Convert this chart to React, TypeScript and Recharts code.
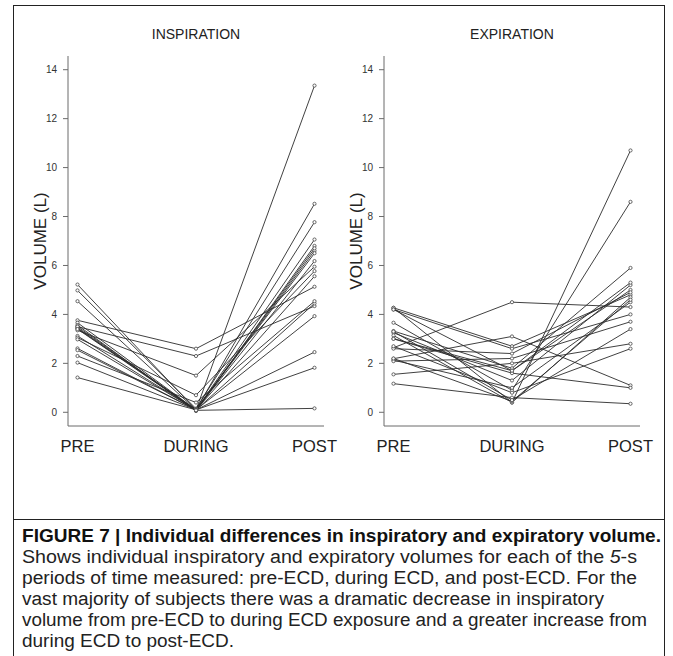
import React from 'react';
import { LineChart, Line, XAxis, YAxis } from 'recharts';

const PHASES = ['PRE', 'DURING', 'POST'];
const Y_TICKS = [0, 2, 4, 6, 8, 10, 12, 14];

// inspiratory volume (L), one entry per subject
const INSP_PRE = [5.22, 4.98, 4.54, 3.76, 3.66, 3.56, 3.5, 3.45, 3.42, 3.35, 3.12, 3.05, 2.98, 2.61, 2.54, 2.3, 2.03, 1.42, 3.5, 3.4];
const INSP_DURING = [0.1, 0.15, 0.1, 2.6, 0.1, 0.05, 2.3, 0.1, 0.1, 1.5, 0.1, 0.7, 0.1, 0.1, 0.1, 0.4, 0.1, 0.1, 0.1, 0.08];
const INSP_POST = [6.6, 7.77, 8.52, 5.13, 13.35, 6.8, 4.34, 6.7, 6.5, 5.95, 7.06, 5.77, 6.18, 5.56, 4.45, 4.54, 3.93, 2.46, 1.82, 0.16];

// expiratory volume (L)
const EXP_PRE = [4.27, 4.27, 4.2, 3.66, 3.32, 3.25, 3.14, 3.01, 2.64, 2.6, 2.19, 2.13, 2.09, 1.55, 1.17, 2.2, 3.0, 2.7, 4.2, 3.3];
const EXP_DURING = [2.7, 0.4, 2.6, 0.9, 1.8, 1.3, 0.4, 1.7, 4.5, 2.4, 3.1, 1.0, 2.2, 2.0, 0.6, 0.45, 1.6, 0.8, 1.7, 0.5];
const EXP_POST = [4.8, 10.7, 4.0, 8.6, 5.9, 5.2, 4.7, 5.0, 4.3, 4.9, 1.1, 4.5, 3.7, 2.8, 0.35, 4.6, 1.0, 2.6, 5.3, 3.4];

const buildRows = (pre: number[], during: number[], post: number[]) =>
  PHASES.map((phase, i) => {
    const src = [pre, during, post][i];
    const row: Record<string, any> = { phase };
    src.forEach((v, k) => { row['s' + k] = v; });
    return row;
  });

const AXIS_COLOR = '#6b6b6b';
const FONT = "'Liberation Sans', Arimo, Arial, sans-serif";

const Panel = ({ title, rows, n, left }: { title: string; rows: any[]; n: number; left: number }) => (
  <div style={{ position: 'absolute', left, top: 0, width: 340, height: 470 }}>
    <div style={{ position: 'absolute', left: 68, width: 256, top: 26, textAlign: 'center', fontFamily: FONT, fontSize: 14, color: '#222' }}>
      {title}
    </div>
    <LineChart width={340} height={470} data={rows} margin={{ top: 56, right: 16, left: 0, bottom: 4 }}>
      <XAxis
        dataKey="phase"
        padding={{ left: 9.5, right: 9.5 }}
        tickLine={false}
        tickMargin={8}
        height={40}
        axisLine={{ stroke: AXIS_COLOR }}
        tick={{ fill: '#222', fontSize: 16.5, fontFamily: FONT }}
      />
      <XAxis xAxisId="top" orientation="top" dataKey="phase" height={0} tick={false} tickLine={false} padding={{ left: 9.5, right: 9.5 }} axisLine={{ stroke: AXIS_COLOR }} />
      <YAxis
        type="number"
        domain={[-0.56, 14.56]}
        ticks={Y_TICKS}
        allowDataOverflow
        width={68}
        tickSize={5}
        tickMargin={6}
        axisLine={{ stroke: AXIS_COLOR }}
        tickLine={{ stroke: AXIS_COLOR }}
        tick={{ fill: '#333', fontSize: 10, fontFamily: FONT }}
        label={{ value: 'VOLUME (L)', angle: -90, position: 'insideLeft', offset: 40, style: { textAnchor: 'middle', fill: '#222', fontSize: 17, fontFamily: FONT } }}
      />
      <YAxis yAxisId="right" orientation="right" type="number" domain={[-0.56, 14.56]} width={0} tick={false} tickLine={false} axisLine={{ stroke: AXIS_COLOR }} />
      {Array.from({ length: n }, (_, k) => (
        <Line
          key={k}
          dataKey={'s' + k}
          stroke="#2b2b2b"
          strokeWidth={0.9}
          dot={{ r: 1.6, fill: '#fff', stroke: '#444', strokeWidth: 0.8 }}
          isAnimationActive={false}
        />
      ))}
    </LineChart>
  </div>
);

// caption lines with the width each takes in the figure
const CAPTION_LINES = [
  { text: 'Shows individual inspiratory and expiratory volumes for each of the 5-s', w: 615 },
  { text: 'periods of time measured: pre-ECD, during ECD, and post-ECD. For the', w: 615 },
  { text: 'vast majority of subjects there was a dramatic decrease in inspiratory', w: 582 },
  { text: 'volume from pre-ECD to during ECD exposure and a greater increase from', w: 625 },
  { text: 'during ECD to post-ECD.', w: 212 },
];

export default function App() {
  const insp = buildRows(INSP_PRE, INSP_DURING, INSP_POST);
  const exp = buildRows(EXP_PRE, EXP_DURING, EXP_POST);
  return (
    <div style={{ position: 'fixed', left: 0, top: 0, width: 673, height: 656, background: '#fff', overflow: 'hidden' }}>
      <div style={{ position: 'absolute', left: 13, top: 5, width: 650, height: 660, border: '1.5px solid #222' }} />
      <div style={{ position: 'absolute', left: 13, top: 519, width: 652, height: 0, borderTop: '1.5px solid #222' }} />
      <Panel title="INSPIRATION" rows={insp} n={INSP_PRE.length} left={0} />
      <Panel title="EXPIRATION" rows={exp} n={EXP_PRE.length} left={316} />
      <svg style={{ position: 'absolute', left: 0, top: 519 }} width={673} height={137}>
        <text x={22} y={23} textLength={639} lengthAdjust="spacingAndGlyphs" fontFamily={FONT} fontWeight="bold" fontSize={18} fill="#111">
          FIGURE 7 | Individual differences in inspiratory and expiratory volume.
        </text>
        {CAPTION_LINES.map((l, i) => (
          <text key={i} x={22} y={44 + i * 21} textLength={l.w} lengthAdjust="spacingAndGlyphs" fontFamily={FONT} fontSize={18} fill="#222">
            {i === 0 ? (
              <>
                {l.text.slice(0, -3)}
                <tspan fontStyle="italic">5</tspan>-s
              </>
            ) : (
              l.text
            )}
          </text>
        ))}
      </svg>
    </div>
  );
}
